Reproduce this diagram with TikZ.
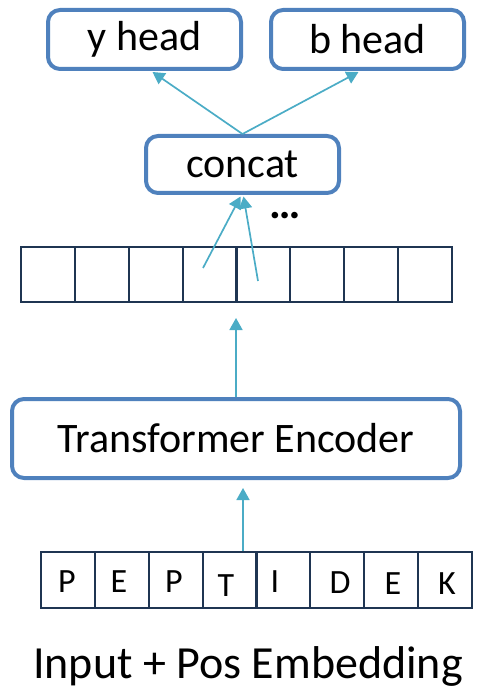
\documentclass[tikz,border=0pt]{standalone}
\usepackage{fontspec}
\setmainfont{Carlito}
\usetikzlibrary{arrows.meta,calc}
\definecolor{boxblue}{HTML}{4F81BD}
\definecolor{arrowcyan}{HTML}{4BACC6}
\definecolor{cellnavy}{HTML}{1F3552}
\tikzset{
  headbox/.style={draw=boxblue, line width=4pt, rounded corners=12pt, fill=white,
    inner sep=0pt, minimum width=193pt, minimum height=59pt, font=\fontsize{42}{48}\selectfont},
  cellbox/.style={draw=cellnavy, line width=2.1pt, inner sep=0pt,
    minimum width=53.875pt},
  letter/.style={inner sep=0pt, anchor=base, font=\fontsize{34}{40}\selectfont},
  flow/.style={draw=arrowcyan, line width=1.7pt, -{Triangle[width=13pt,length=12pt]}},
}
\begin{document}
\begin{tikzpicture}[x=1pt,y=-1pt]
\useasboundingbox (0,0) rectangle (485,692);

% output heads
\node[headbox] (yhead) at (144.5,39.5) {y head};
\node[headbox] (bhead) at (367.5,39.5) {b head};
\node[headbox, minimum height=57pt] (concat) at (242.5,164.5) {concat};
\node[inner sep=0pt, font=\bfseries\fontsize{44}{50}\selectfont] (dots) at (285,216) {…};

% encoder output cells
\foreach \i in {1,...,8} {
  \node[cellbox, minimum height=55pt] (out\i) at ({21+53.875*(\i-0.5)},274.5) {};
}

% encoder
\node[headbox, minimum width=448pt, minimum height=79pt] (encoder) at (236,438.5) {Transformer Encoder};

% input tokens
\foreach \i in {1,...,8} {
  \node[cellbox, minimum height=56pt] (in\i) at ({41+53.875*(\i-0.5)},580) {};
}
\node[letter] (t1) at (67,592) {P};
\node[letter] (t2) at (119,592) {E};
\node[letter] (t3) at (174,592) {P};
\node[letter] (t4) at (226,596) {T};
\node[letter] (t5) at (275,592) {I};
\node[letter] (t6) at (340,593) {D};
\node[letter] (t7) at (393,594) {E};
\node[letter] (t8) at (447,594) {K};

\node[inner sep=0pt, anchor=base west, font=\fontsize{46}{54}\selectfont] (caption) at (33,678) {Input + Pos Embedding};

% connectors
\coordinate (ytip) at ($(yhead.south)+(8,1)$);
\coordinate (btip) at ($(bhead.south)+(-9,1)$);
\draw[flow] (concat.north) -- (ytip);
\draw[flow] (concat.north) -- (btip);

\coordinate (srcA) at (203,268);
\coordinate (srcB) at (258,281);
\draw[flow] (srcA) -- ($(concat.south)+(-2,1.5)$);
\draw[flow] (srcB) -- ($(concat.south)+(1,1.5)$);

\coordinate (celltip) at (236,318);
\draw[flow] (encoder.north -| celltip) -- (celltip);

\coordinate (enctip) at (243,488);
\draw[flow] (in4.north -| enctip) -- (enctip);
\end{tikzpicture}
\end{document}
